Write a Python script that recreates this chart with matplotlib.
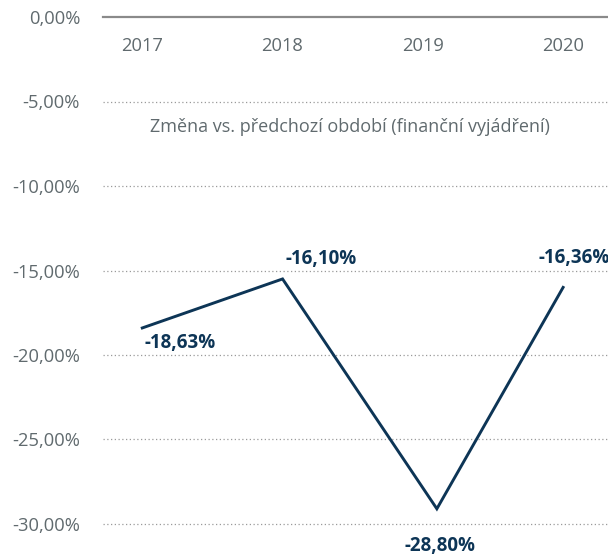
import matplotlib
matplotlib.use("Agg")
import matplotlib.pyplot as plt

plt.rcParams['font.family'] = ['Open Sans', 'DejaVu Sans']

years = [2017, 2018, 2019, 2020]
x_pos = [2017.0, 2018.0, 2019.1, 2020.0]
values = [-18.4, -15.5, -29.1, -16.0]
labels = ["-18,63%", "-16,10%", "-28,80%", "-16,36%"]
yticks = [0, -5, -10, -15, -20, -25, -30]
ytick_labels = ["0,00%", "-5,00%", "-10,00%", "-15,00%", "-20,00%", "-25,00%", "-30,00%"]
subtitle = "Změna vs. předchozí období (finanční vyjádření)"

line_color = "#0d3556"
text_gray = "#606a6e"

fig = plt.figure(figsize=(6.08, 5.56), dpi=100)
ax = fig.add_axes([103/608, (556-524)/556, 1 - 103/608, (524-17)/556])
ax.set_xlim(2016.72, 2020.32)
ax.set_ylim(-30, 0)

for s in ax.spines.values():
    s.set_visible(False)

for t in yticks[1:]:
    ax.axhline(t, color="#9a9a9a", lw=0.9, ls=(0, (1, 2)), zorder=1, clip_on=False)
ax.axhline(0, color="#8a8a8a", lw=1.6, zorder=1, clip_on=False)

ax.set_yticks(yticks)
ax.set_yticklabels(ytick_labels, color=text_gray, fontsize=13.2)
ax.tick_params(axis='y', length=0, pad=16.5)
ax.set_xticks([])

for yr in years:
    ax.text(yr, -1.72, str(yr), ha='center', va='center', color=text_gray, fontsize=13.2)

ax.text((350-103)/505, 1 - (127-17)/507, subtitle, transform=ax.transAxes,
        ha='center', va='center', color=text_gray, fontsize=13.0)

ax.plot(x_pos, values, color=line_color, lw=2.1, zorder=3, clip_on=False,
        solid_joinstyle='miter')

offsets = [(2, -15, 'left'), (3, 20, 'left'), (3, -37, 'center'), (-25, 29, 'left')]
for x, v, lab, (dx, dy, ha) in zip(x_pos, values, labels, offsets):
    ax.annotate(lab, (x, v), xytext=(dx, dy), textcoords='offset pixels',
                ha=ha, va='center', color=line_color, fontsize=13.5,
                fontweight='bold', annotation_clip=False)

fig.savefig("out.png", dpi=100)
